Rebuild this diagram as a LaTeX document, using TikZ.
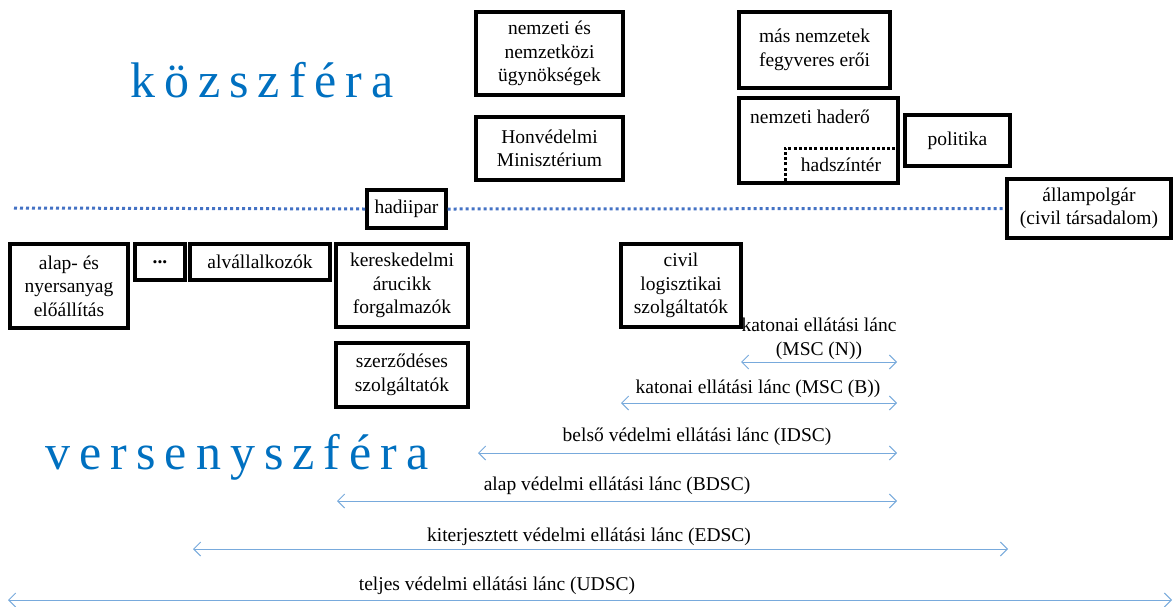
\documentclass[tikz,border=0pt]{standalone}
\usepackage{fontspec}
\setmainfont{Liberation Serif}
\usetikzlibrary{arrows.meta}
\definecolor{sphereblue}{RGB}{0,112,192}
\definecolor{dotblue}{RGB}{68,114,196}
\definecolor{chainblue}{RGB}{120,170,220}
\newcommand\sk{\kern9pt}
\begin{document}
\begin{tikzpicture}[x=1pt,y=-1pt,
  txt/.style={font=\fontsize{19.5}{23.5}\selectfont, align=center, inner sep=0pt},
  box/.style={txt, draw, line width=3.2pt, fill=white},
  sphere/.style={font=\fontsize{50}{50}\selectfont, text=sphereblue, inner sep=0pt},
  chain/.style={draw=chainblue, line width=1pt, {Straight Barb[length=7pt,width=14pt]}-{Straight Barb[length=7pt,width=14pt]}},
  border/.style={draw=dotblue, line width=3pt, dash pattern=on 3pt off 3pt},
  theatre/.style={draw=black, line width=3pt, dash pattern=on 3pt off 2.2pt}]
\useasboundingbox (0,0) rectangle (1174,606);

% sector titles
\node[sphere] (pub) at (262,80) {k\sk ö\sk z\sk s\sk z\sk f\sk é\sk r\sk a};
\node[sphere] (comp) at (237,457) {v\sk e\sk r\sk s\sk e\sk n\sk y\sk s\sk z\sk f\sk é\sk r\sk a};

% public sphere actors
\node[box, minimum width=147pt, minimum height=83pt] (agency) at (549.5,53.5) {nemzeti és\\nemzetközi\\ügynökségek};
\node[box, minimum width=147pt, minimum height=63pt] (mod) at (549.5,148.5) {Honvédelmi\\Minisztérium};
\node[box, minimum width=151pt, minimum height=76pt] (foreign) at (814.5,50) {más nemzetek\\fegyveres erői};
\node[box, minimum width=159pt, minimum height=85pt] (force) at (818.5,140.5) {};
\node[txt] (forcelbl) at (810,117) {nemzeti haderő};
\node[box, minimum width=105pt, minimum height=51pt] (policy) at (957.5,140.5) {politika};

% theatre of operations inside the national force
\coordinate (th1) at (785,181);
\coordinate (th2) at (785,148);
\coordinate (th3) at (897,148);
\draw[theatre] (th1) -- (th2) -- (th3);
\node[txt] (theatre) at (841,165) {hadszíntér};

% boundary between public and competitive sphere
\coordinate (bl) at (14,208);
\node[box, minimum width=79pt, minimum height=38pt] (industry) at (406.5,209) {hadiipar};
\node[box, minimum width=164pt, minimum height=59pt] (citizen) at (1089,208.5) {állampolgár\\(civil társadalom)};
\draw[border] (bl) -- (industry.west);
\draw[border] (industry.east) -- (citizen.west);

% competitive sphere actors
\node[box, minimum width=118pt, minimum height=84pt] (raw) at (69,286) {alap- és\\nyersanyag\\előállítás};
\node[box, minimum width=50pt, minimum height=36pt] (dots) at (160,262) {\textbf{...}};
\node[box, minimum width=140pt, minimum height=36pt] (sub) at (260,262) {alvállalkozók};
\node[box, minimum width=132pt, minimum height=83pt] (trade) at (402,285.5) {kereskedelmi\\árucikk\\forgalmazók};
\node[box, minimum width=132pt, minimum height=64pt] (contract) at (402,375) {szerződéses\\szolgáltatók};
\node[box, minimum width=120pt, minimum height=83pt] (civil) at (681,285.5) {civil\\logisztikai\\szolgáltatók};

% supply chain extents
\coordinate (n1) at (741,362); \coordinate (n2) at (897,362);
\coordinate (b1) at (621,403); \coordinate (b2) at (897,403);
\coordinate (i1) at (478,453); \coordinate (i2) at (897,453);
\coordinate (d1) at (337,501); \coordinate (d2) at (897,501);
\coordinate (e1) at (193,549); \coordinate (e2) at (1008,549);
\coordinate (u1) at (8,600);   \coordinate (u2) at (1172,600);
\draw[chain] (n1) -- (n2);
\draw[chain] (b1) -- (b2);
\draw[chain] (i1) -- (i2);
\draw[chain] (d1) -- (d2);
\draw[chain] (e1) -- (e2);
\draw[chain] (u1) -- (u2);
\node[txt] (msn) at (819,339) {katonai ellátási lánc\\(MSC (N))};
\node[txt] (msb) at (758,389) {katonai ellátási lánc (MSC (B))};
\node[txt] (idsc) at (697,437) {belső védelmi ellátási lánc (IDSC)};
\node[txt] (bdsc) at (617,486) {alap védelmi ellátási lánc (BDSC)};
\node[txt] (edsc) at (589,537) {kiterjesztett védelmi ellátási lánc (EDSC)};
\node[txt] (udsc) at (497,586) {teljes védelmi ellátási lánc (UDSC)};
\end{tikzpicture}
\end{document}
